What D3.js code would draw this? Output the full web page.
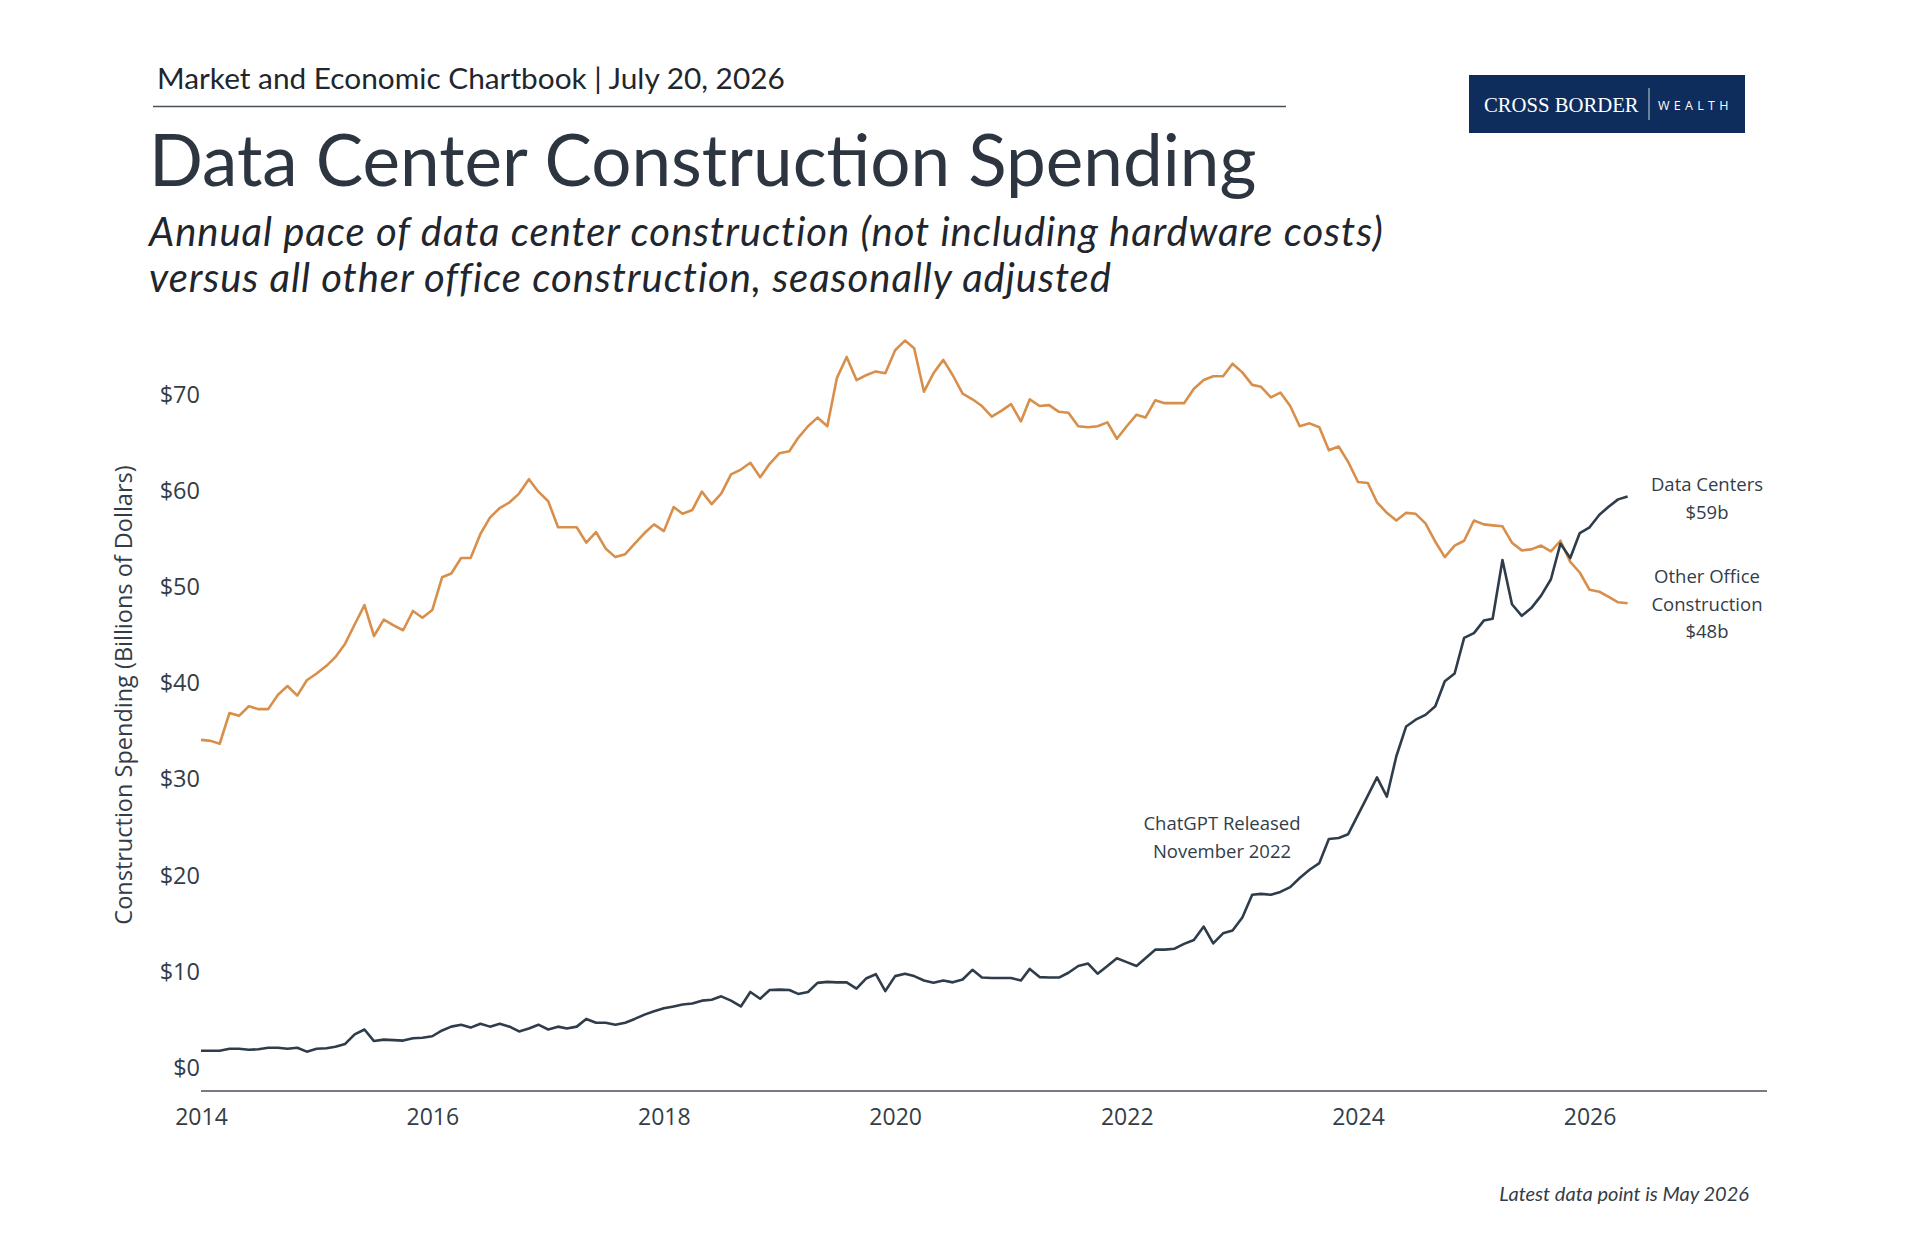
<!DOCTYPE html>
<html>
<head>
<meta charset="utf-8">
<script src="https://cdn.jsdelivr.net/npm/d3@7"></script>
<style>
  body { margin: 0; background: #fff; }
</style>
</head>
<body>
<div id="chart"></div>
<script>
"use strict";

// Monthly values, Jan 2014 .. May 2026 (billions of dollars, SAAR)
const otherOffice = [
  34.1, 34.0, 33.7, 36.9, 36.6, 37.6, 37.3, 37.3, 38.8, 39.7, 38.7, 40.3,
  41.0, 41.8, 42.7, 44.1, 46.1, 48.1, 44.9, 46.6, 46.0, 45.5, 47.5, 46.8,
  47.6, 51.0, 51.4, 53.0, 53.0, 55.5, 57.2, 58.2, 58.8, 59.7, 61.2, 59.9,
  58.9, 56.2, 56.2, 56.2, 54.6, 55.7, 54.0, 53.1, 53.4, 54.5, 55.6, 56.5,
  55.8, 58.3, 57.6, 58.0, 59.9, 58.6, 59.7, 61.7, 62.2, 62.9, 61.4, 62.8,
  63.9, 64.1, 65.5, 66.7, 67.6, 66.7, 71.7, 73.9, 71.5, 72.0, 72.4, 72.2,
  74.6, 75.6, 74.8, 70.3, 72.2, 73.6, 72.0, 70.1, 69.5, 68.8, 67.7, 68.3,
  69.0, 67.2, 69.5, 68.8, 68.9, 68.2, 68.1, 66.7, 66.6, 66.7, 67.1, 65.4,
  66.7, 67.9, 67.6, 69.4, 69.1, 69.1, 69.1, 70.6, 71.5, 71.9, 71.9, 73.2,
  72.3, 71.0, 70.8, 69.7, 70.2, 68.8, 66.7, 67.0, 66.6, 64.2, 64.6, 63.0,
  60.9, 60.8, 58.8, 57.7, 56.9, 57.7, 57.6, 56.6, 54.7, 53.1, 54.3, 54.8,
  56.9, 56.5, 56.4, 56.3, 54.6, 53.8, 53.9, 54.3, 53.7, 54.8, 52.6, 51.5,
  49.7, 49.5, 49.0, 48.4, 48.3
];

const dataCenters = [
  1.8, 1.8, 1.8, 2.0, 2.0, 1.9, 1.95, 2.1, 2.1, 2.0, 2.1, 1.7,
  2.0, 2.05, 2.2, 2.5, 3.5, 4.0, 2.8, 2.95, 2.9, 2.85, 3.1, 3.15,
  3.3, 3.9, 4.3, 4.5, 4.2, 4.6, 4.3, 4.6, 4.3, 3.8, 4.1, 4.5,
  4.0, 4.3, 4.1, 4.3, 5.1, 4.7, 4.7, 4.5, 4.7, 5.1, 5.55, 5.9,
  6.2, 6.4, 6.6, 6.7, 7.0, 7.1, 7.45, 7.0, 6.4, 7.9, 7.2, 8.1,
  8.15, 8.1, 7.7, 7.9, 8.85, 8.95, 8.9, 8.9, 8.25, 9.3, 9.75, 8.0,
  9.55, 9.8, 9.55, 9.1, 8.85, 9.1, 8.9, 9.2, 10.2, 9.4, 9.35, 9.35,
  9.35, 9.1, 10.3, 9.45, 9.4, 9.4, 9.9, 10.6, 10.85, 9.8, 10.6, 11.4,
  11.0, 10.6, 11.4, 12.3, 12.3, 12.4, 12.9, 13.3, 14.7, 12.95, 14.0, 14.3,
  15.65, 18.0, 18.1, 18.0, 18.3, 18.8, 19.75, 20.6, 21.3, 23.8, 23.9, 24.3,
  26.3, 28.3, 30.2, 28.2, 32.4, 35.5, 36.2, 36.7, 37.6, 40.2, 41.0, 44.7,
  45.2, 46.5, 46.7, 52.8, 48.2, 47.0, 47.8, 49.1, 50.8, 54.5, 53.0, 55.6,
  56.2, 57.5, 58.3, 59.1, 59.4
];

const months = d3.timeMonth.range(new Date(2014, 0, 1), new Date(2026, 5, 1));
const yTicks = [0, 10, 20, 30, 40, 50, 60, 70];
const xTickYears = [2014, 2016, 2018, 2020, 2022, 2024, 2026];

const W = 1920, H = 1240;
const textColor = "#333d47";
const orange = "#d88f4b";
const slate = "#2f3d4b";

let svg = d3.select("#chart").append("svg")
  .attr("width", W)
  .attr("height", H)
  .style("background", "#fff");

// Header
svg.append("text")
  .attr("x", 157)
  .attr("y", 89)
  .text("Market and Economic Chartbook | July 20, 2026")
  .attr("font-family", "Lato, sans-serif")
  .attr("font-size", "29.8px")
  .attr("fill", "#1f262d");

svg.append("line")
  .attr("x1", 153).attr("x2", 1286)
  .attr("y1", 106.5).attr("y2", 106.5)
  .attr("stroke", "#4a5058")
  .attr("stroke-width", 1.5);

svg.append("text")
  .attr("x", 149)
  .attr("y", 186)
  .text("Data Center Construction Spending")
  .attr("font-family", "Lato, sans-serif")
  .attr("font-size", "71px")
  .attr("fill", "#2d3640");

let sub = svg.append("text")
  .attr("font-family", "Lato, sans-serif")
  .attr("font-style", "italic")
  .attr("font-size", "40px")
  .attr("letter-spacing", "0.95px")
  .attr("fill", "#1f262d");
sub.append("tspan").attr("x", 149).attr("y", 246)
  .text("Annual pace of data center construction (not including hardware costs)");
sub.append("tspan").attr("x", 149).attr("y", 292)
  .text("versus all other office construction, seasonally adjusted");

// Logo
let logo = svg.append("g");
logo.append("rect")
  .attr("x", 1469).attr("y", 75)
  .attr("width", 276).attr("height", 58)
  .attr("fill", "#0e2d5d");
logo.append("text")
  .attr("x", 1484).attr("y", 112)
  .text("CROSS BORDER")
  .attr("font-family", "'Liberation Serif', serif")
  .attr("font-size", "20.7px")
  .attr("fill", "#fff");
logo.append("line")
  .attr("x1", 1649).attr("x2", 1649)
  .attr("y1", 88).attr("y2", 120)
  .attr("stroke", "#c9d2e0")
  .attr("stroke-width", 1);
logo.append("text")
  .attr("x", 1658).attr("y", 110)
  .text("WEALTH")
  .attr("font-family", "'Open Sans', sans-serif")
  .attr("font-size", "12.5px")
  .attr("letter-spacing", "4.3px")
  .attr("fill", "#fff");

// Scales
let x = d3.scaleTime()
  .domain([new Date(2014, 0, 1), new Date(2027, 6, 15)])
  .range([201, 1767]);
let y = d3.scaleLinear()
  .domain([0, 70])
  .range([1068, 394.5]);
let yBase = y(-2.4);

// Axis line
svg.append("line")
  .attr("x1", x.range()[0]).attr("x2", x.range()[1])
  .attr("y1", yBase).attr("y2", yBase)
  .attr("stroke", "#4a5058")
  .attr("stroke-width", 1.5);

// X tick labels
let xAxis = d3.axisBottom(x)
  .tickValues(xTickYears.map(yr => new Date(yr, 0, 1)))
  .tickFormat(d3.timeFormat("%Y"))
  .tickSize(0)
  .tickPadding(18);
let gx = svg.append("g")
  .attr("transform", "translate(0," + yBase + ")")
  .call(xAxis);
gx.select(".domain").remove();
gx.selectAll("text")
  .attr("font-family", "'Open Sans', sans-serif")
  .attr("font-size", "23px")
  .attr("fill", textColor);

// Y tick labels
let yAxis = d3.axisLeft(y)
  .tickValues(yTicks)
  .tickFormat(d => "$" + d)
  .tickSize(0)
  .tickPadding(0);
let gy = svg.append("g")
  .attr("transform", "translate(200,0)")
  .call(yAxis);
gy.select(".domain").remove();
gy.selectAll("text")
  .attr("font-family", "'Open Sans', sans-serif")
  .attr("font-size", "23.5px")
  .attr("fill", textColor);

// Y axis title
svg.append("text")
  .attr("transform", "translate(132,695) rotate(-90)")
  .attr("text-anchor", "middle")
  .text("Construction Spending (Billions of Dollars)")
  .attr("font-family", "'Open Sans', sans-serif")
  .attr("font-size", "23.5px")
  .attr("fill", textColor);

// Lines
let line = d3.line()
  .x((d, i) => x(months[i]))
  .y(d => y(d));

svg.append("path")
  .datum(otherOffice)
  .attr("d", line)
  .attr("fill", "none")
  .attr("stroke", orange)
  .attr("stroke-width", 2.6)
  .attr("stroke-linejoin", "round");

svg.append("path")
  .datum(dataCenters)
  .attr("d", line)
  .attr("fill", "none")
  .attr("stroke", slate)
  .attr("stroke-width", 2.6)
  .attr("stroke-linejoin", "round");

// Annotations
function label(lines, cx, y0) {
  let t = svg.append("text")
    .attr("text-anchor", "middle")
    .attr("font-family", "'Open Sans', sans-serif")
    .attr("font-size", "18.5px")
    .attr("fill", textColor);
  lines.forEach(function(s, i) {
    t.append("tspan").attr("x", cx).attr("y", y0 + i * 27.5).text(s);
  });
}

let lastDC = dataCenters[dataCenters.length - 1];
let lastOO = otherOffice[otherOffice.length - 1];
label(["Data Centers", "$" + Math.round(lastDC) + "b"], 1707, 491);
label(["Other Office", "Construction", "$" + Math.round(lastOO) + "b"], 1707, 583);
label(["ChatGPT Released", "November 2022"], 1222, 830);

// Footnote
svg.append("text")
  .attr("x", 1749)
  .attr("y", 1201)
  .attr("text-anchor", "end")
  .text("Latest data point is May 2026")
  .attr("font-family", "Lato, sans-serif")
  .attr("font-style", "italic")
  .attr("font-size", "20px")
  .attr("fill", textColor);
</script>
</body>
</html>
